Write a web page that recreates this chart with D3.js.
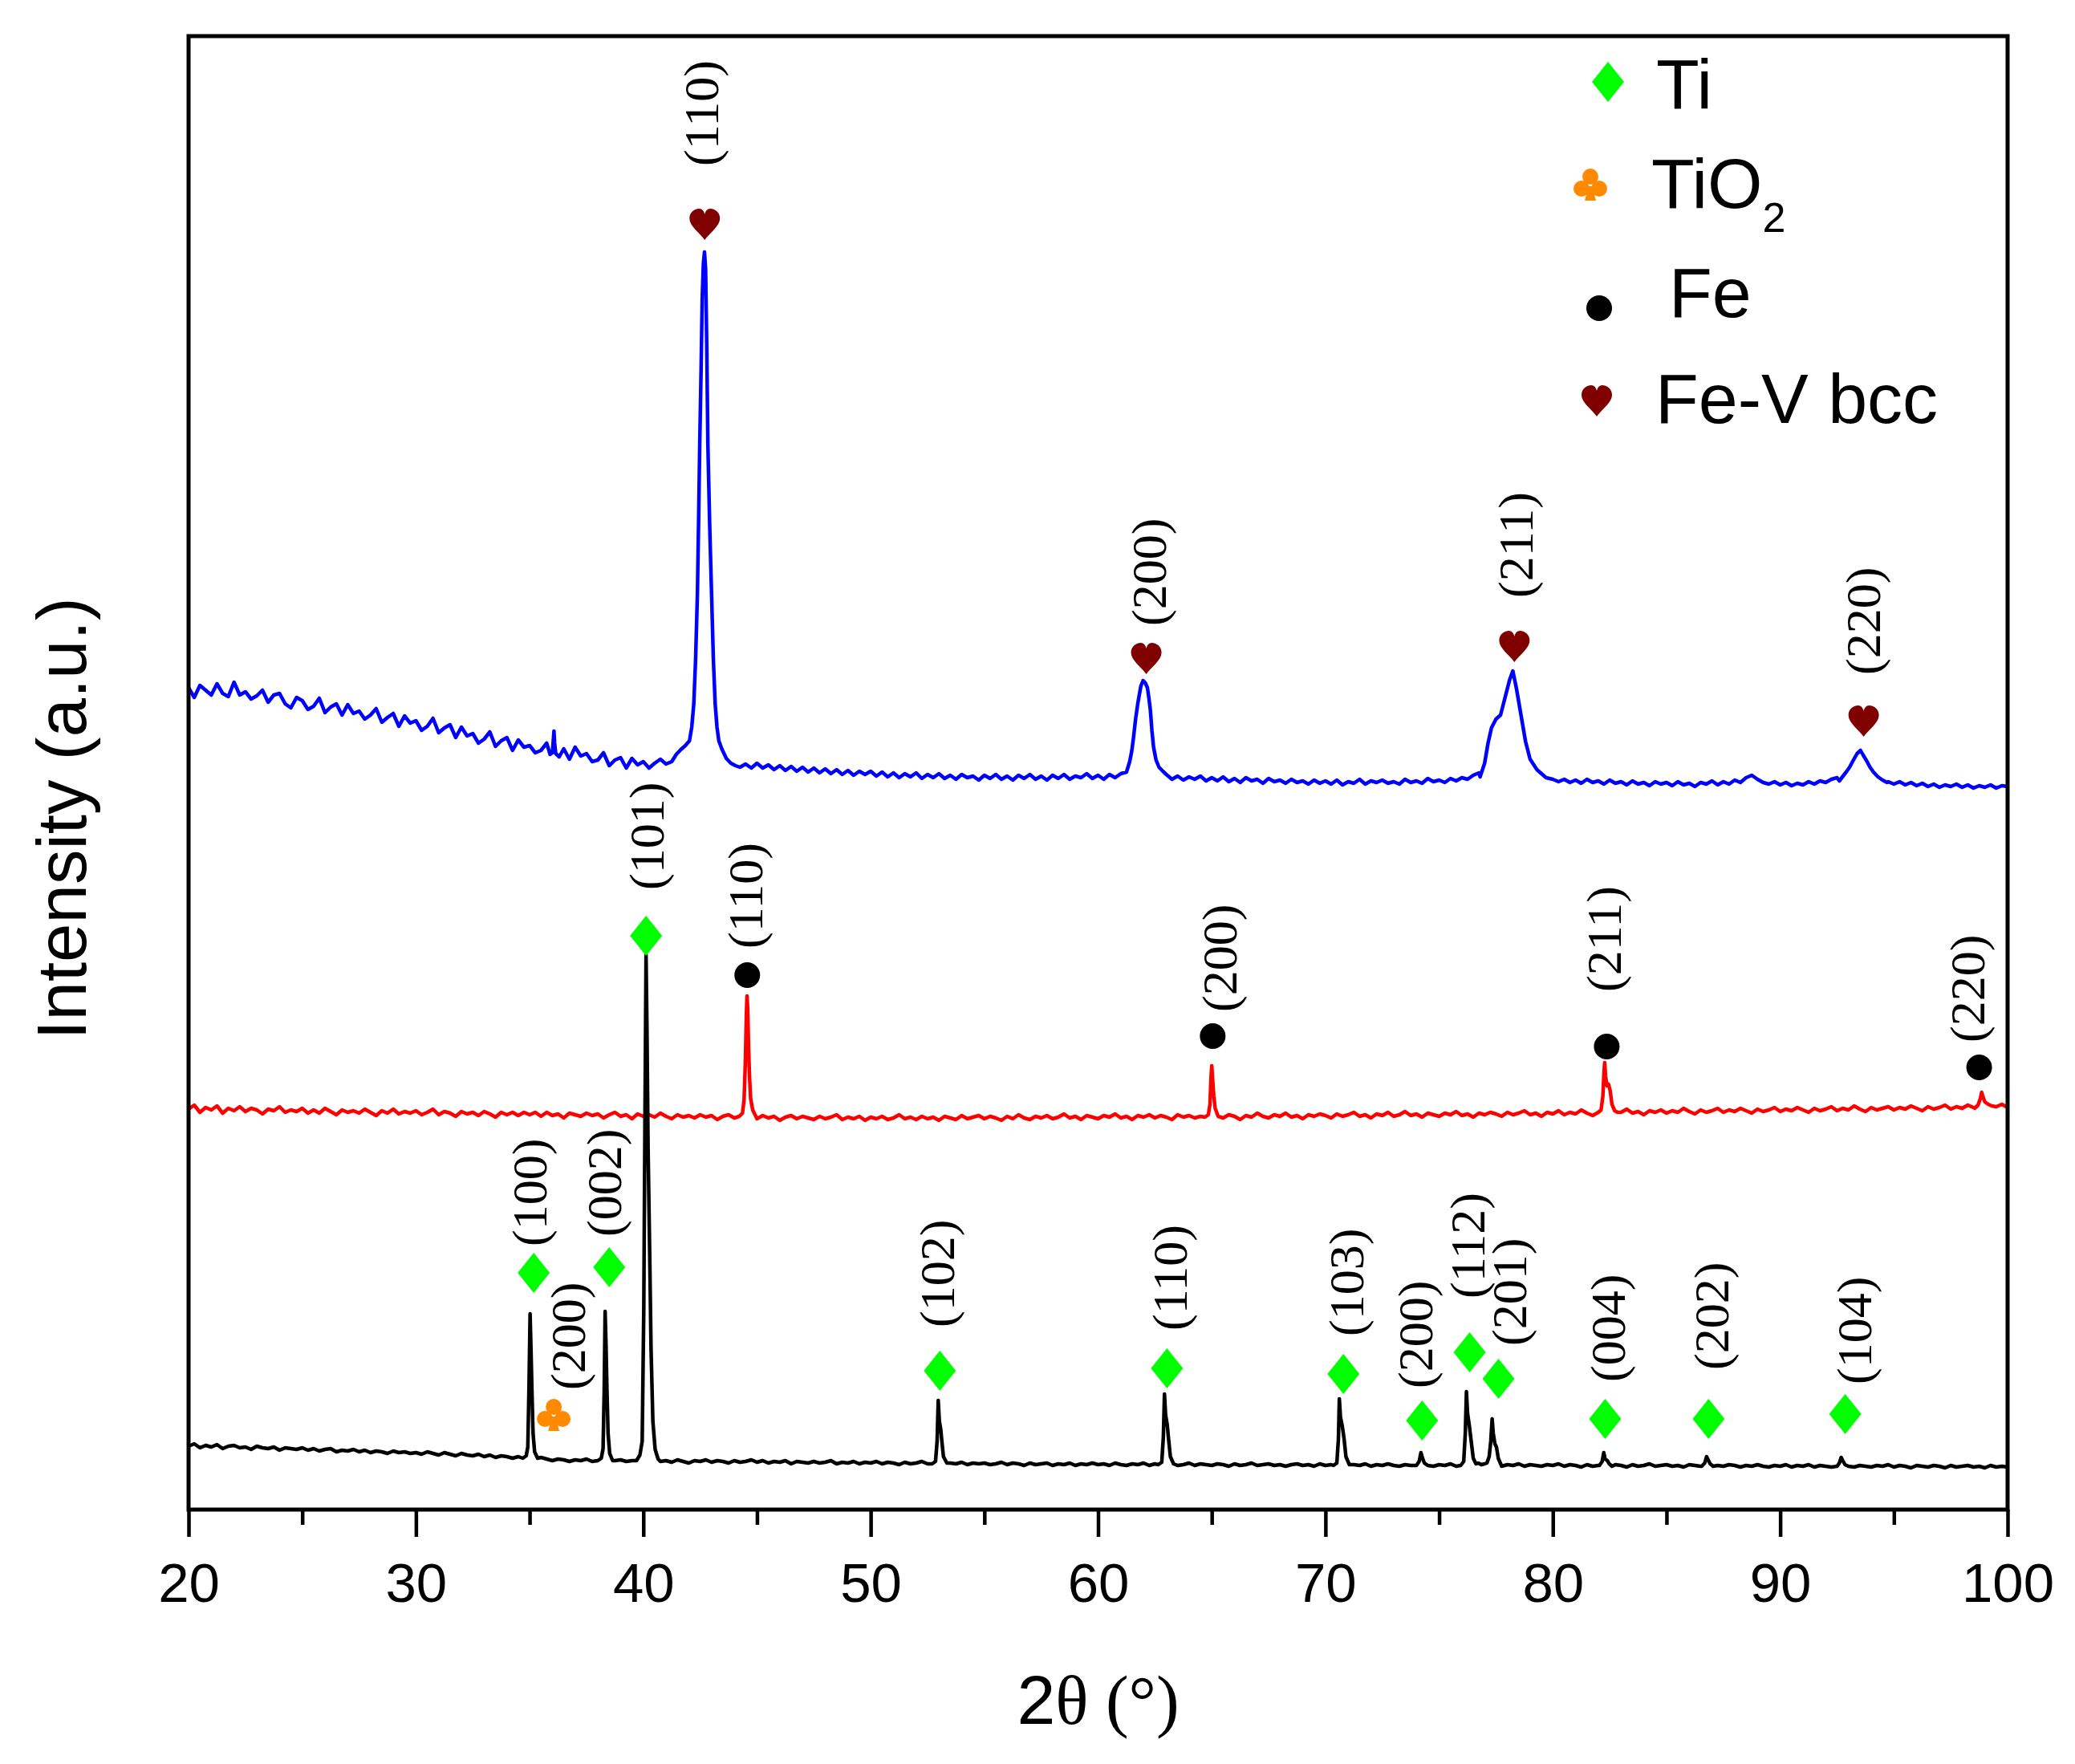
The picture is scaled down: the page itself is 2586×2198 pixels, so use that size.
<!DOCTYPE html>
<html>
<head>
<meta charset="utf-8">
<script src="https://cdnjs.cloudflare.com/ajax/libs/d3/7.8.5/d3.min.js"></script>
<style>
  body { margin: 0; background: #fff; }
  svg { display: block; }
</style>
</head>
<body>
<svg id="chart" width="2586" height="2198"></svg>
<script>
// background readings are taken every 0.25 deg from 20 deg
var gridStart = 20, gridStep = 0.25;

// black pattern (Ti) background, a.u.
var baseTi = [
 79,82,77,80,78,81,76,79,80,77, 78,75,79,77,76,78,74,77,76,75,
 77,74,76,73,75,76,72,74,73,75, 72,74,71,73,72,70,73,71,72,70,
 71,69,72,70,68,71,69,67,70,68, 67,69,66,68,65,67,66,64,66,65,
 64,62,65,63,61,63,62,60,62,61, 63,60,62,61,59,61,62,60,61,62,
 60,61,62,60,61,59,62,60,58,61, 60,62,59,61,60,58,61,59,60,62,
 59,61,58,60,59,61,57,60,59,58, 60,58,59,61,57,59,58,60,57,59,
 58,60,57,59,58,56,59,57,58,60, 57,59,58,56,58,57,59,56,58,57,
 58,56,57,59,56,58,57,55,58,56, 57,58,55,57,56,58,55,57,56,58,
 56,57,55,58,56,55,57,56,58,55, 57,56,54,57,55,56,58,55,57,56,
 55,57,56,54,57,55,56,58,55,56, 57,55,56,54,56,57,55,56,54,57,
 55,56,57,55,54,56,55,57,54,56, 55,57,55,54,56,55,57,55,56,54,
 56,55,57,54,56,55,57,56,55,57, 56,54,56,55,57,54,56,55,54,56,
 55,57,54,56,55,53,56,54,55,56, 54,56,55,53,56,54,55,57,54,55,
 56,54,55,53,56,55,54,56,53,55, 54,56,55,53,55,54,56,54,53,55,
 54,56,53,55,54,56,53,55,54,53, 55,54,56,53,55,54,53,55,54,56,
 53,55,54,52,55,54,53,55,54,52, 55,53,54,55,53,54,52,55,53,54,
 53
];

// red pattern (Fe) background
var baseFe = [
 499,504,495,501,498,503,494,500,497,502, 496,500,498,493,499,497,502,495,498,496,
 500,494,498,494,500,496,492,498,495,497, 494,499,495,491,497,494,499,493,496,494,
 497,492,495,499,492,496,494,490,496,493, 495,491,496,493,489,495,492,495,491,495,
 492,495,490,495,491,493,488,494,492,490, 494,491,493,488,492,495,490,492,487,493,
 490,492,489,494,490,487,492,489,491,488, 492,489,491,486,490,492,488,491,489,490,
 487,491,488,490,485,489,491,487,490,488, 486,490,487,489,492,486,489,487,490,485,
 489,487,490,486,488,492,487,489,486,490, 487,489,485,490,488,486,491,487,489,491,
 487,490,488,485,490,487,492,488,486,490, 488,491,487,489,493,488,490,486,491,489,
 487,491,489,493,488,490,486,491,489,492, 488,491,489,486,492,489,491,488,490,493,
 489,491,488,492,490,486,491,489,494,490, 488,492,490,494,489,491,487,492,490,493,
 491,488,493,490,492,495,490,492,488,493, 491,495,490,492,496,491,493,489,494,492,
 490,494,492,496,491,493,489,494,492,495, 493,490,495,492,494,497,492,494,490,495,
 493,497,492,495,493,498,494,491,496,494, 497,493,495,499,494,496,492,497,495,498,
 494,497,495,500,496,493,498,495,497,500, 495,498,496,500,497,494,499,496,498,501,
 496,499,497,501,498,495,500,497,499,502, 497,500,498,503,499,496,501,498,500,502,
 498,501,499,503,500,497,502,499,501,504, 499,502,500,504,501,498,503,500,502,505,
 501
];

// blue pattern (Fe-V) background
var baseFeV = [
 1024,1012,1027,1021,1015,1029,1017,1013,1031,1015, 1019,1010,1014,1021,1006,1015,1017,1004,999,1012,
 1008,997,1001,1011,993,1000,1004,990,1003,992, 995,985,990,998,981,987,992,976,989,980,
 983,971,976,986,968,974,978,962,975,964, 967,955,960,969,951,958,962,946,959,950,
 952,943,946,955,938,945,948,935,950,939, 942,932,934,943,927,934,937,924,936,928,
 932,924,930,935,929,932,938,936,944,950, 960,955,945,935,930,927,931,925,929,924,
 930,924,928,922,927,921,926,920,925,919, 924,918,923,917,922,916,921,915,920,916,
 920,914,919,913,918,912,917,913,918,911, 916,912,917,911,915,910,916,912,914,909,
 915,911,916,910,914,909,915,911,916,910, 914,909,915,911,916,910,914,912,917,911,
 915,910,916,912,917,913,918,914,916,912, 917,913,915,910,914,909,913,910,914,908,
 912,908,913,907,911,906,912,908,910,905, 911,907,909,905,910,906,908,904,909,905,
 908,904,909,903,907,905,910,904,908,906, 909,905,907,904,910,906,908,905,911,907,
 909,906,911,908,912,910,915,918,928,945, 985,1030,1040,990,950,930,921,915,912,910,
 912,907,910,906,909,905,910,906,908,904, 909,905,907,903,908,904,906,902,907,904,
 906,902,907,903,905,901,906,904,908,903, 907,904,909,906,912,915,910,906,904,907,
 903,906,902,905,903,907,904,908,906,910, 912,920,935,946,935,920,912,908,905,907,
 904,907,903,906,902,905,901,904,900,903, 901,904,900,903,899,902,900,903,899,902,
 901
];

// peak readings [2theta, intensity]
var peaksTi = [
 [[34.7,64],[34.85,67],[34.92,78],[34.97,150],[35.02,244],[35.06,200],[35.1,150],[35.15,95],[35.22,72],[35.35,64]],
 [[38.0,61],[38.15,64],[38.23,76],[38.28,150],[38.32,247],[38.36,205],[38.4,150],[38.45,95],[38.52,70],[38.65,61]],
 [[39.7,61],[39.85,68],[39.95,85],[40.02,250],[40.07,480],[40.12,691],[40.16,600],[40.21,450],[40.28,320],[40.34,200],[40.42,110],[40.52,75],[40.65,63]],
 [[52.7,57],[52.85,60],[52.92,85],[52.97,136],[53.02,110],[53.08,100],[53.13,85],[53.2,66],[53.35,58]],
 [[62.65,56],[62.8,59],[62.87,90],[62.92,144],[62.97,118],[63.04,106],[63.1,88],[63.18,66],[63.32,57]],
 [[70.35,55],[70.5,58],[70.57,88],[70.61,138],[70.66,115],[70.74,104],[70.82,88],[70.9,66],[71.05,56]],
 [[74.0,55],[74.12,60],[74.2,71],[74.27,64],[74.35,58],[74.5,55]],
 [[75.95,55],[76.08,60],[76.15,95],[76.2,147],[76.25,120],[76.33,104],[76.41,85],[76.5,64],[76.62,57],[76.72,58],[76.85,56],[77.0,57],[77.1,58],[77.2,66],[77.27,85],[77.33,113],[77.38,95],[77.45,82],[77.52,78],[77.6,64],[77.72,56]],
 [[82.05,55],[82.17,60],[82.24,71],[82.3,63],[82.4,61],[82.48,57],[82.6,54]],
 [[86.55,54],[86.68,58],[86.76,66],[86.83,62],[86.92,57],[87.05,54]],
 [[92.5,54],[92.6,58],[92.68,65],[92.75,61],[92.85,56],[93.0,54]]
];

var peaksFe = [
 [[44.22,490],[44.36,494],[44.43,510],[44.49,560],[44.53,615],[44.56,640],[44.59,625],[44.63,575],[44.67,540],[44.72,512],[44.81,498],[44.93,491]],
 [[64.7,489],[64.85,492],[64.92,505],[64.97,540],[65.0,553],[65.04,535],[65.09,515],[65.15,500],[65.28,490]],
 [[82.0,495],[82.12,498],[82.2,515],[82.25,545],[82.28,557],[82.32,540],[82.38,528],[82.45,530],[82.52,522],[82.6,505],[82.72,497],[82.85,495]],
 [[98.55,500],[98.7,504],[98.8,512],[98.86,520],[98.92,514],[99.0,508],[99.15,505],[99.3,503]]
];

var peaksFeV = [
 [[35.9,941],[36.0,943],[36.04,958],[36.07,970],[36.1,955],[36.15,942],[36.3,938]],
 [[41.45,941],[41.65,947],[41.85,952],[42.03,958],[42.13,975],[42.22,1004],[42.3,1060],[42.38,1142],[42.43,1230],[42.48,1326],[42.54,1420],[42.59,1509],[42.64,1552],[42.69,1567],[42.74,1545],[42.79,1450],[42.84,1326],[42.92,1225],[43.0,1142],[43.08,1060],[43.16,1004],[43.24,975],[43.32,958],[43.45,948],[43.65,936],[43.85,930],[44.05,927]],
 [[61.25,919],[61.39,932],[61.48,945],[61.55,960],[61.65,985],[61.75,1005],[61.88,1026],[61.98,1033],[62.08,1030],[62.17,1024],[62.24,1010],[62.3,996],[62.37,970],[62.44,950],[62.55,934],[62.68,925],[62.85,920],[63.0,916]],
 [[76.8,913],[77.0,930],[77.15,955],[77.3,974],[77.5,985],[77.7,990],[77.9,1012],[78.1,1034],[78.24,1045],[78.4,1023],[78.6,990],[78.8,957],[79.0,935],[79.3,922],[79.7,912],[80.0,910]],
 [[92.6,908],[92.9,919],[93.05,925],[93.2,933],[93.38,942],[93.53,946],[93.65,940],[93.8,933],[93.95,925],[94.1,919],[94.3,913],[94.5,909],[94.7,906]]
];

// peak marks: [hkl, mark 2theta, mark intensity, label 2theta, label intensity]
var feVMarks = [
 ['(110)', 42.70, 1601, 42.62, 1674],
 ['(200)', 62.12, 1060, 62.32, 1101],
 ['(211)', 78.31, 1075, 78.45, 1136],
 ['(220)', 93.67, 982, 93.74, 1040]
];
var feMarks = [
 ['(110)', 44.57, 666, 44.57, 699],
 ['(200)', 65.04, 590, 65.43, 620],
 ['(211)', 82.37, 577, 82.34, 645],
 ['(220)', 98.75, 551, 98.33, 582]
];
var tiMarks = [
 ['(100)', 35.18, 295, 35.07, 328],
 ['(002)', 38.50, 302, 38.36, 340],
 ['(101)', 40.12, 715, 40.23, 772],
 ['(102)', 53.04, 173, 53.00, 227],
 ['(110)', 63.03, 176, 63.24, 223],
 ['(103)', 70.79, 169, 71.01, 216],
 ['(200)', 74.25, 111, 74.04, 151],
 ['(112)', 76.34, 196, 76.34, 263],
 ['(201)', 77.61, 163, 78.17, 204],
 ['(004)', 82.30, 113, 82.51, 159],
 ['(202)', 86.85, 113, 87.07, 174],
 ['(104)', 92.86, 119, 93.35, 156]
];
var tio2Marks = [
 ['(200)', 36.06, 118, 36.77, 149]
];

var legendNames = ['Ti', 'TiO', 'Fe', 'Fe-V bcc'];
var xTicks = [20, 30, 40, 50, 60, 70, 80, 90, 100];
var xMinorTicks = [25, 35, 45, 55, 65, 75, 85, 95];

var sansFont = "'Liberation Sans', Arial, sans-serif";
var serifFont = "'Liberation Serif', 'Times New Roman', serif";

var svg = d3.select('#chart');

var x = d3.scaleLinear().domain([20, 100]).range([235, 2502]);
var y = d3.scaleLinear().domain([0, 1836]).range([1881, 45]);

// background points not covered by a peak reading, plus the peak readings
function buildSeries(base, peaks) {
    var pts = [];
    base.forEach(function (v, i) {
        var t = gridStart + i * gridStep;
        var covered = peaks.some(function (p) {
            return t >= p[0][0] && t <= p[p.length - 1][0];
        });
        if (!covered) pts.push([t, v]);
    });
    peaks.forEach(function (p) { pts = pts.concat(p); });
    pts.sort(function (a, b) { return a[0] - b[0]; });
    return pts;
}

var line = d3.line()
    .x(function (d) { return x(d[0]); })
    .y(function (d) { return y(d[1]); });

var series = [
    { data: buildSeries(baseFeV, peaksFeV), color: '#0000ff' },
    { data: buildSeries(baseFe, peaksFe), color: '#ff0000' },
    { data: buildSeries(baseTi, peaksTi), color: '#000000' }
];

svg.append('g').selectAll('path')
    .data(series)
    .enter()
    .append('path')
    .attr('d', function (d) { return line(d.data); })
    .attr('fill', 'none')
    .attr('stroke', function (d) { return d.color; })
    .attr('stroke-width', 4.5)
    .attr('stroke-linejoin', 'round');

// marker shapes
var shapes = {
    diamond: { path: 'M0,-25L20,0L0,25L-20,0Z', color: '#00ff00' },
    heart: { path: 'M0,19C-6,10-19,2-19,-8C-19,-16-12,-20-7,-20C-3,-20-1,-17,0,-13C1,-17,3,-20,7,-20C12,-20,19,-16,19,-8C19,2,6,10,0,19Z', color: '#800000' },
    club: { path: 'M-10,-10a10,10 0 1,0 20,0a10,10 0 1,0 -20,0Z' +
                  'M-21,5a10,10 0 1,0 20,0a10,10 0 1,0 -20,0Z' +
                  'M1,5a10,10 0 1,0 20,0a10,10 0 1,0 -20,0Z' +
                  'M-2,2L-7,20L7,20L2,2Z', color: '#ff8a00' },
    dot: { path: 'M-16,0a16,16 0 1,0 32,0a16,16 0 1,0 -32,0Z', color: '#000000' }
};

function drawMarks(marks, shape) {
    var g = svg.append('g');
    g.selectAll('path')
        .data(marks)
        .enter()
        .append('path')
        .attr('d', shapes[shape].path)
        .attr('fill', shapes[shape].color)
        .attr('transform', function (d) {
            return 'translate(' + x(d[1]) + ',' + y(d[2]) + ')';
        });
    g.selectAll('text')
        .data(marks)
        .enter()
        .append('text')
        .attr('transform', function (d) {
            return 'translate(' + x(d[3]) + ',' + y(d[4]) + ') rotate(-90)';
        })
        .attr('dy', '0.3em')
        .style('font-family', serifFont)
        .style('font-size', '62px')
        .text(function (d) { return d[0]; });
}

drawMarks(feVMarks, 'heart');
drawMarks(feMarks, 'dot');
drawMarks(tiMarks, 'diamond');
drawMarks(tio2Marks, 'club');

// frame
svg.append('rect')
    .attr('x', x(20)).attr('y', y(1836))
    .attr('width', x(100) - x(20)).attr('height', y(0) - y(1836))
    .attr('fill', 'none').attr('stroke', '#000').attr('stroke-width', 5);

// x axis
var gx = svg.append('g').attr('transform', 'translate(0,' + y(0) + ')');
gx.call(d3.axisBottom(x).tickValues(xTicks).tickSize(34).tickFormat(d3.format('d')));
gx.select('.domain').remove();
gx.selectAll('.tick line').attr('stroke', '#000').attr('stroke-width', 4.5);
gx.selectAll('.tick text')
    .attr('y', 115).attr('dy', null)
    .attr('fill', '#000')
    .style('font-family', sansFont)
    .style('font-size', '69px');

var gxm = svg.append('g').attr('transform', 'translate(0,' + y(0) + ')');
gxm.call(d3.axisBottom(x).tickValues(xMinorTicks).tickSize(19).tickFormat(''));
gxm.select('.domain').remove();
gxm.selectAll('.tick line').attr('stroke', '#000').attr('stroke-width', 4.5);

// axis titles
var xt = svg.append('text')
    .attr('x', (x(20) + x(100)) / 2)
    .attr('y', 2148)
    .attr('text-anchor', 'middle')
    .style('font-size', '86px');
xt.append('tspan').style('font-family', sansFont).text('2');
xt.append('tspan').style('font-family', serifFont).text('\u03b8 (\u00b0)');

svg.append('text')
    .attr('transform', 'translate(107,1020) rotate(-90)')
    .attr('text-anchor', 'middle')
    .style('font-family', sansFont)
    .style('font-size', '87px')
    .text('Intensity (a.u.)');

// legend
var legendShapes = ['diamond', 'club', 'dot', 'heart'];
var legendMarkPos = [[2004, 102], [1982, 230], [1993, 384], [1990, 500]];
var legendTextPos = [[2064, 135], [2058, 259], [2080, 395], [2063, 527]];

var lg = svg.append('g');
legendNames.forEach(function (name, i) {
    lg.append('path')
        .attr('d', shapes[legendShapes[i]].path)
        .attr('fill', shapes[legendShapes[i]].color)
        .attr('transform', 'translate(' + legendMarkPos[i][0] + ',' + legendMarkPos[i][1] + ')');
    var t = lg.append('text')
        .attr('x', legendTextPos[i][0])
        .attr('y', legendTextPos[i][1])
        .style('font-family', sansFont)
        .style('font-size', '88px')
        .text(name);
    if (name === 'TiO') {
        t.append('tspan').attr('dy', 30).style('font-size', '52px').text('2');
    }
});
</script>
</body>
</html>
